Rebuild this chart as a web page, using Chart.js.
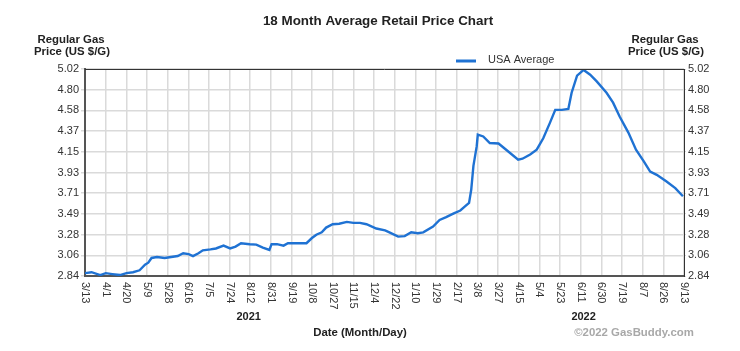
<!DOCTYPE html>
<html>
<head>
<meta charset="utf-8">
<script src="https://cdn.jsdelivr.net/npm/chart.js@4"></script>
<style>
    body { margin: 0; background: #fff; }
    #wrap { width: 740px; height: 351px; position: relative; }
</style>
</head>
<body>
<div id="wrap"><canvas id="price-chart"></canvas></div>
<script>
// Days since 3/13/2021 and the USA average price
const dayOffsets = [0, 6, 14, 19, 25, 32, 38, 44, 50, 55, 58, 61, 66, 73, 79, 85, 90, 95, 99, 104,
    108, 115, 120, 127, 133, 138, 143, 151, 157, 163, 169, 171, 176, 182, 186, 195, 203, 208, 212, 217,
    221, 227, 233, 240, 246, 252, 258, 267, 275, 279, 287, 293, 299, 305, 310, 319, 325, 331, 338, 344,
    348, 352, 354, 356, 359, 360, 365, 371, 379, 386, 397, 401, 408, 414, 420, 426, 431, 437, 443, 446,
    451, 457, 463, 469, 478, 484, 490, 498, 505, 512, 518, 524, 533, 541, 548];
const usaAverage = [2.87, 2.88, 2.85, 2.87, 2.86, 2.85, 2.87, 2.88, 2.90, 2.96, 2.98, 3.03, 3.04, 3.03, 3.04, 3.05, 3.08, 3.07, 3.05, 3.08,
    3.11, 3.12, 3.13, 3.16, 3.13, 3.15, 3.185, 3.175, 3.17, 3.14, 3.115, 3.175, 3.175, 3.16, 3.185, 3.185, 3.185, 3.24, 3.275, 3.30,
    3.35, 3.385, 3.39, 3.41, 3.40, 3.40, 3.385, 3.34, 3.32, 3.30, 3.255, 3.26, 3.30, 3.29, 3.30, 3.36, 3.43, 3.46, 3.50, 3.53,
    3.57, 3.61, 3.75, 4.00, 4.205, 4.33, 4.31, 4.24, 4.235, 4.17, 4.065, 4.075, 4.12, 4.17, 4.29, 4.45, 4.59, 4.59, 4.60, 4.77,
    4.95, 5.01, 4.96, 4.89, 4.77, 4.665, 4.52, 4.35, 4.17, 4.05, 3.94, 3.905, 3.835, 3.765, 3.68];

const xTickLabels = ["3/13", "4/1", "4/20", "5/9", "5/28", "6/16", "7/5", "7/24", "8/12", "8/31",
    "9/19", "10/8", "10/27", "11/15", "12/4", "12/22", "1/10", "1/29", "2/17", "3/8",
    "3/27", "4/15", "5/4", "5/23", "6/11", "6/30", "7/19", "8/7", "8/26", "9/13"];
const yTickLabels = ["2.84", "3.06", "3.28", "3.49", "3.71", "3.93", "4.15", "4.37", "4.58", "4.80", "5.02"];
const yearLabels = [{ text: "2021", day: 150 }, { text: "2022", day: 457 }];
const totalDays = 549;
const yMin = 2.84, yMax = 5.02;

const FONT = "'Liberation Sans', Arial, sans-serif";
const LINE_BLUE = "#1f72d3";

function yTicks(scale) {
    scale.ticks = yTickLabels.map((l, i) => ({ value: yMin + i * (yMax - yMin) / (yTickLabels.length - 1) }));
}

// Draws titles, legend, rotated date labels and footer text
const decorations = {
    id: "decorations",
    afterDraw(chart) {
        const ctx = chart.ctx;
        const area = chart.chartArea;
        const xs = chart.scales.x;
        ctx.save();

        // top border of the plot
        ctx.strokeStyle = "#333";
        ctx.lineWidth = 1;
        ctx.beginPath();
        ctx.moveTo(area.left, area.top + 0.5);
        ctx.lineTo(area.right, area.top + 0.5);
        ctx.stroke();

        ctx.fillStyle = "#222";
        ctx.textAlign = "center";
        ctx.textBaseline = "middle";
        ctx.font = `bold 13.4px ${FONT}`;
        ctx.fillText("18 Month Average Retail Price Chart", 378, 21);

        ctx.font = `bold 11.4px ${FONT}`;
        ctx.fillText("Regular Gas", 71, 40);
        ctx.fillText("Price (US $/G)", 72, 52);
        ctx.fillText("Regular Gas", 665, 40);
        ctx.fillText("Price (US $/G)", 666, 52);

        // legend
        ctx.strokeStyle = LINE_BLUE;
        ctx.lineWidth = 3;
        ctx.beginPath();
        ctx.moveTo(456, 61);
        ctx.lineTo(476, 61);
        ctx.stroke();
        ctx.fillStyle = "#333";
        ctx.textAlign = "left";
        ctx.font = `11px ${FONT}`;
        ctx.fillText("USA Average", 488, 60);

        // x tick labels, reading downward
        xTickLabels.forEach((label, i) => {
            const x = xs.getPixelForValue(i * totalDays / (xTickLabels.length - 1));
            ctx.save();
            ctx.translate(x, 282);
            ctx.rotate(Math.PI / 2);
            ctx.textAlign = "left";
            ctx.textBaseline = "middle";
            ctx.fillStyle = "#333";
            ctx.font = `11px ${FONT}`;
            ctx.fillText(label, 0, 0);
            ctx.restore();
        });

        ctx.textAlign = "center";
        ctx.fillStyle = "#222";
        ctx.font = `bold 11px ${FONT}`;
        yearLabels.forEach(y => {
            ctx.fillText(y.text, xs.getPixelForValue(y.day), 317);
        });

        ctx.font = `bold 11.4px ${FONT}`;
        ctx.fillText("Date (Month/Day)", 360, 333);

        ctx.fillStyle = "#a8a8a8";
        ctx.fillText("\u00A92022 GasBuddy.com", 634, 333);
        ctx.restore();
    }
};

new Chart(document.getElementById("price-chart"), {
    type: "line",
    data: {
        datasets: [{
            label: "USA Average",
            data: dayOffsets.map((d, i) => ({ x: d, y: usaAverage[i] })),
            borderColor: LINE_BLUE,
            borderWidth: 2.4,
            pointRadius: 0,
            tension: 0,
            yAxisID: "y"
        }]
    },
    options: {
        responsive: true,
        maintainAspectRatio: false,
        animation: false,
        layout: { padding: { top: 69 } },
        plugins: {
            legend: { display: false },
            title: { display: false },
            tooltip: { enabled: false }
        },
        scales: {
            x: {
                type: "linear",
                min: 0,
                max: totalDays,
                bounds: "data",
                afterBuildTicks: scale => {
                    scale.ticks = xTickLabels.map((l, i) => ({ value: i * totalDays / (xTickLabels.length - 1) }));
                },
                afterFit: scale => { scale.height = 75; },
                ticks: { display: false },
                grid: { color: "#dadada", lineWidth: 1.5, drawTicks: false },
                border: { color: "#555", width: 2 }
            },
            y: {
                type: "linear",
                position: "left",
                min: yMin,
                max: yMax,
                bounds: "data",
                afterBuildTicks: yTicks,
                afterFit: scale => { scale.width = 85; },
                ticks: {
                    color: "#333",
                    padding: 2,
                    font: { family: FONT, size: 11 },
                    callback: (v, i) => yTickLabels[i]
                },
                grid: { color: "#dadada", lineWidth: 1.5, tickLength: 4 },
                border: { color: "#555", width: 2 }
            },
            y2: {
                type: "linear",
                position: "right",
                min: yMin,
                max: yMax,
                bounds: "data",
                afterBuildTicks: yTicks,
                afterFit: scale => { scale.width = 56; },
                ticks: {
                    color: "#333",
                    padding: 2,
                    font: { family: FONT, size: 11 },
                    callback: (v, i) => yTickLabels[i]
                },
                grid: { drawOnChartArea: false, color: "#dadada", tickLength: 2 },
                border: { color: "#333", width: 1 }
            }
        }
    },
    plugins: [decorations]
});
</script>
</body>
</html>
